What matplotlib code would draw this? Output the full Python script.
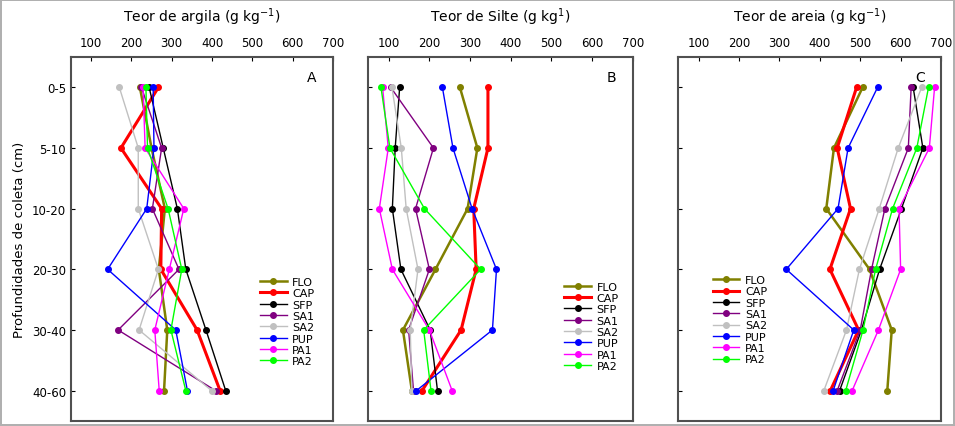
import matplotlib.pyplot as plt
import numpy as np

# profundidades (categorias no eixo y)
depths = ["0-5", "5-10", "10-20", "20-30", "30-40", "40-60"]
series = ["FLO", "CAP", "SFP", "SA1", "SA2", "PUP", "PA1", "PA2"]

# Teor de argila (g kg-1)
argila = {
    "FLO": [221, 250, 283, 268, 289, 281],
    "CAP": [267, 174, 275, 273, 363, 420],
    "SFP": [244, 279, 314, 335, 385, 434],
    "SA1": [225, 275, 252, 318, 167, 409],
    "SA2": [170, 217, 217, 267, 219, 399],
    "PUP": [254, 256, 238, 141, 310, 339],
    "PA1": [229, 234, 330, 294, 258, 269],
    "PA2": [236, 240, 291, 325, 298, 335],
}
# Teor de silte (g kg-1)
silte = {
    "FLO": [275, 318, 294, 215, 135, 157],
    "CAP": [344, 344, 309, 315, 278, 182],
    "SFP": [127, 116, 109, 130, 202, 220],
    "SA1": [105, 210, 166, 200, 149, 161],
    "SA2": [108, 131, 143, 172, 153, 157],
    "PUP": [232, 258, 305, 365, 355, 168],
    "PA1": [85, 99, 77, 109, 200, 256],
    "PA2": [81, 103, 188, 326, 186, 204],
}
# Teor de areia (g kg-1)
areia = {
    "FLO": [506, 435, 416, 523, 578, 567],
    "CAP": [491, 443, 476, 425, 496, 426],
    "SFP": [631, 655, 602, 548, 503, 449],
    "SA1": [626, 619, 561, 528, 500, 443],
    "SA2": [652, 594, 547, 498, 466, 410],
    "PUP": [543, 470, 445, 317, 484, 433],
    "PA1": [684, 671, 596, 600, 545, 480],
    "PA2": [669, 640, 580, 538, 507, 464],
}

colors = {"FLO": "#808000", "CAP": "#ff0000", "SFP": "#000000", "SA1": "#800080",
          "SA2": "#c0c0c0", "PUP": "#0000ff", "PA1": "#ff00ff", "PA2": "#00ff00"}
widths = {"FLO": 1.8, "CAP": 2.2}

panels = [
    (argila, "Teor de argila (g kg$^{-1}$)", "A", 0.0743, 0.2743, (0.70, 0.135)),
    (silte, "Teor de Silte (g kg$^{1}$)", "B", 0.3857, 0.2769, (0.72, 0.122)),
    (areia, "Teor de areia (g kg$^{-1}$)", "C", 0.7103, 0.2751, (0.11, 0.14)),
]

fig = plt.figure(figsize=(9.55, 4.27), dpi=100)
fig.patch.set_edgecolor("#b0b0b0")
fig.patch.set_linewidth(1.5)
y = np.arange(1, len(depths) + 1)

for i, (data, title, tag, left, width, legpos) in enumerate(panels):
    ax = fig.add_axes([left, 0.0117, width, 0.8525])
    for s in series:
        ax.plot(data[s], y, color=colors[s], lw=widths.get(s, 1.0), marker="o",
                ms=4, label=s)
    ax.set_xlim(50, 700)
    ax.set_ylim(6.5, 0.5)
    ax.set_xticks([100, 200, 300, 400, 500, 600, 700])
    ax.xaxis.tick_top()
    ax.tick_params(axis="x", direction="in", length=3, labelsize=8.5, pad=6)
    ax.tick_params(axis="y", direction="in", length=3, labelsize=8.5)
    ax.set_yticks(y)
    if i == 0:
        ax.set_yticklabels(depths)
        ax.set_ylabel("Profundidades de coleta (cm)", fontsize=9.5)
    else:
        ax.set_yticklabels([])
    ax.set_title(title, fontsize=10, pad=26)
    for sp in ax.spines.values():
        sp.set_color("#505050")
        sp.set_linewidth(1.5)
    ax.text(0.9, 0.965, tag, transform=ax.transAxes, ha="left", va="top", fontsize=10)
    ax.legend(loc="lower left", bbox_to_anchor=legpos, frameon=False, fontsize=8,
              handlelength=2.4, labelspacing=0.12, borderpad=0, handletextpad=0.5)

fig.savefig("out.png", dpi=100)
